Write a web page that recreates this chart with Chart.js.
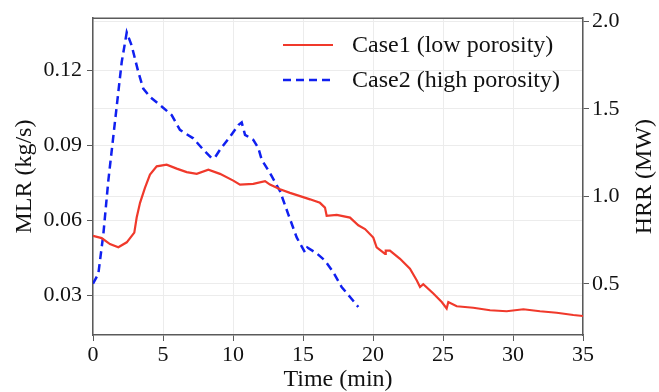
<!DOCTYPE html>
<html>
<head>
<meta charset="utf-8">
<script src="https://cdn.jsdelivr.net/npm/chart.js@4.4.1/dist/chart.umd.min.js"></script>
<style>
html,body{margin:0;padding:0;background:#fff;}
#wrap{width:659px;height:392px;position:relative;}
</style>
</head>
<body>
<div id="wrap"><canvas id="c" width="659" height="392"></canvas></div>
<script>
// Case1 (low porosity) - MLR (kg/s), left axis
const case1Time = [0.0,0.62,1.21,1.81,2.41,2.95,3.12,3.36,3.71,4.07,4.55,5.26,5.98,6.69,7.41,8.24,9.07,10.02,10.5,11.45,12.29,12.64,13.36,14.07,14.79,15.5,16.21,16.57,16.69,17.41,18.36,18.95,19.43,20.02,20.26,20.86,20.91,21.21,21.93,22.64,23.12,23.36,23.59,24.31,24.91,25.26,25.38,25.98,27.16,28.36,29.55,30.74,31.93,33.12,34.31,35.0];
const case1MLR  = [0.0538,0.0529,0.0505,0.0492,0.0512,0.0551,0.0611,0.0670,0.0730,0.0783,0.0816,0.0823,0.0807,0.0793,0.0786,0.0803,0.0786,0.0759,0.0743,0.0746,0.0757,0.0743,0.0724,0.0710,0.0697,0.0684,0.0670,0.0651,0.0618,0.0622,0.0611,0.0580,0.0565,0.0531,0.0492,0.0466,0.0479,0.0479,0.0446,0.0406,0.0360,0.0333,0.0344,0.0307,0.0273,0.0247,0.0273,0.0256,0.0250,0.0240,0.0236,0.0244,0.0236,0.0230,0.0221,0.0217];
// Case2 (high porosity) - HRR (MW), right axis
const case2Time = [0.0,0.38,0.74,1.09,1.57,2.05,2.41,2.76,3.24,3.59,4.07,4.79,5.62,6.21,7.16,7.88,8.48,8.71,9.07,9.79,10.38,10.62,10.86,11.45,11.81,12.05,12.64,13.36,13.95,14.55,15.14,15.31,15.98,16.57,17.16,17.76,18.36,18.95];
const case2HRR  = [0.501,0.557,0.784,1.086,1.426,1.766,1.936,1.861,1.709,1.615,1.568,1.521,1.464,1.379,1.331,1.266,1.218,1.222,1.266,1.341,1.407,1.422,1.351,1.322,1.275,1.209,1.133,1.029,0.897,0.765,0.680,0.708,0.674,0.633,0.567,0.482,0.425,0.368];
const xTicks = [0,5,10,15,20,25,30,35];
const mlrTicks = [0.03,0.06,0.09,0.12];
const hrrTicks = [0.5,1.0,1.5,2.0];
const labels = ['Case1 (low porosity)','Case2 (high porosity)'];

const RED = '#f0392b', BLUE = '#1020f0';
const FONT = '"Liberation Serif","Times New Roman",serif';
const GRID = '#ececec', AXIS = '#5a5a5a';

const ds1 = case1Time.map((t,i)=>({x:t,y:case1MLR[i]}));
const ds2 = case2Time.map((t,i)=>({x:t,y:case2HRR[i]}));

const extras = {
  id:'extras',
  afterDraw(chart){
    const ctx = chart.ctx, a = chart.chartArea;
    ctx.save();
    ctx.strokeStyle = AXIS; ctx.lineWidth = 1.5;
    ctx.beginPath(); ctx.moveTo(a.left, a.top); ctx.lineTo(a.right, a.top); ctx.stroke();
    const items = [
      {c:RED, dash:[], w:2.2, y:45},
      {c:BLUE, dash:[8,5], w:2.5, y:80}
    ];
    ctx.font = '24px ' + FONT; ctx.fillStyle = '#111'; ctx.textBaseline = 'middle'; ctx.textAlign='left';
    items.forEach((it,i)=>{
      ctx.strokeStyle = it.c; ctx.lineWidth = it.w; ctx.setLineDash(it.dash);
      ctx.beginPath(); ctx.moveTo(283, it.y); ctx.lineTo(333, it.y); ctx.stroke();
      ctx.setLineDash([]);
      ctx.fillText(labels[i], 352, it.y + 1);
    });
    ctx.save();
    ctx.translate(645, (a.top + a.bottom)/2);
    ctx.rotate(-Math.PI/2);
    ctx.textAlign = 'center'; ctx.textBaseline = 'middle';
    ctx.font = '24px ' + FONT; ctx.fillStyle = '#111';
    ctx.fillText('HRR (MW)', 0, 0);
    ctx.restore();
    ctx.restore();
  }
};

new Chart(document.getElementById('c'), {
  type:'line',
  data:{datasets:[
    {label:labels[0], data:ds1, yAxisID:'y', borderColor:RED, borderWidth:2.2, pointRadius:0, tension:0, fill:false},
    {label:labels[1], data:ds2, yAxisID:'y1', borderColor:BLUE, borderWidth:2.5, borderDash:[8,5], pointRadius:0, tension:0, fill:false}
  ]},
  options:{
    responsive:false, animation:false, devicePixelRatio:1,
    layout:{padding:{top:16,left:0,right:0,bottom:0}},
    plugins:{legend:{display:false}, tooltip:{enabled:false}},
    scales:{
      x:{type:'linear', min:0, max:35,
        afterFit(s){ s.height = 57; },
        afterBuildTicks(s){ s.ticks = xTicks.map(v=>({value:v})); },
        grid:{color:GRID, lineWidth:1, tickLength:6, tickColor:AXIS, drawTicks:true},
        border:{color:AXIS, width:1.5},
        ticks:{font:{family:FONT,size:22}, color:'#111', padding:1, maxRotation:0, callback:v=>String(v)},
        title:{display:true, text:'Time (min)', font:{family:FONT,size:24,lineHeight:1.0}, color:'#111', padding:{top:0,bottom:0}}
      },
      y:{type:'linear', position:'left', min:0.0141, max:0.1409,
        afterFit(s){ s.width = 93; },
        afterBuildTicks(s){ s.ticks = mlrTicks.map(v=>({value:v})); },
        grid:{color:GRID, lineWidth:1, tickLength:6, tickColor:AXIS},
        border:{color:AXIS, width:1.5},
        ticks:{font:{family:FONT,size:22}, color:'#111', padding:5, callback:v=>v.toFixed(2)},
        title:{display:true, text:'MLR (kg/s)', font:{family:FONT,size:24,lineHeight:1.0}, color:'#111', padding:{top:13,bottom:0}}
      },
      y1:{type:'linear', position:'right', min:0.208, max:2.017,
        afterFit(s){ s.width = 76; },
        afterBuildTicks(s){ s.ticks = hrrTicks.map(v=>({value:v})); },
        grid:{color:GRID, lineWidth:1, tickLength:6, tickColor:AXIS, drawOnChartArea:true},
        border:{color:AXIS, width:1.5},
        ticks:{font:{family:FONT,size:22}, color:'#111', padding:3, callback:v=>v.toFixed(1)},
        title:{display:false}
      }
    }
  },
  plugins:[extras]
});
</script>
</body>
</html>
